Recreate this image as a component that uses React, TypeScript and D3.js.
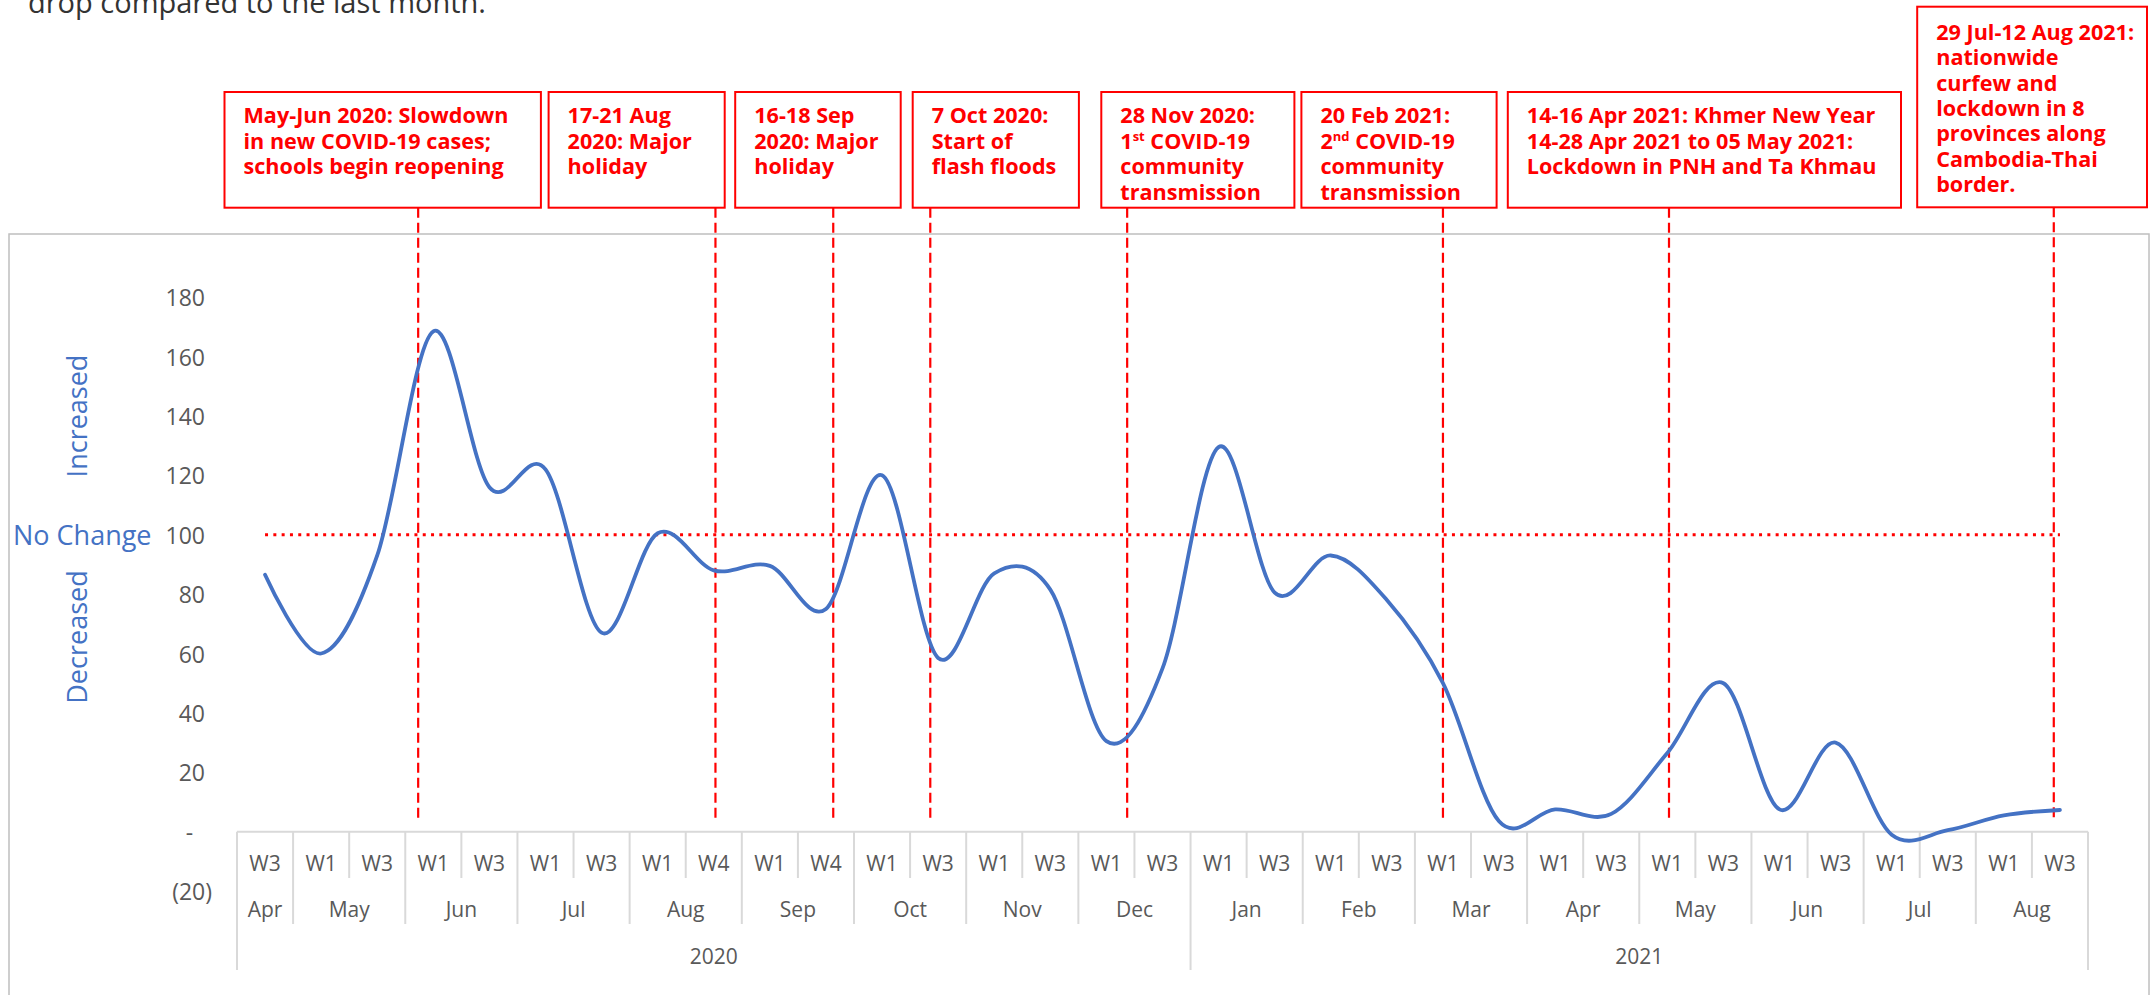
import React from "react";
import * as d3 from "d3";

// ---------- data ----------
const weekLabels = [
  "W3", "W1", "W3", "W1", "W3", "W1", "W3", "W1", "W4", "W1", "W4", "W1", "W3", "W1", "W3", "W1", "W3",
  "W1", "W3", "W1", "W3", "W1", "W3", "W1", "W3", "W1", "W3", "W1", "W3", "W1", "W3", "W1", "W3",
];
const monthLabels = ["Apr", "May", "Jun", "Jul", "Aug", "Sep", "Oct", "Nov", "Dec", "Jan", "Feb", "Mar", "Apr", "May", "Jun", "Jul", "Aug"];
const monthSpans = [1, 2, 2, 2, 2, 2, 2, 2, 2, 2, 2, 2, 2, 2, 2, 2, 2];
const yearLabels = ["2020", "2021"];
const yearSpans = [17, 16];

const values = [
  86.5, 60, 93, 168.5, 116, 122, 67, 100.5, 88, 89.5, 75, 120, 58.5, 87, 81.5, 30.5, 55,
  129.5, 80.5, 93, 78, 50, 3.5, 7.5, 6, 26.5, 50, 7.5, 30, -1, 0.5, 5.5, 7.3,
];

const yTicks = [-20, 0, 20, 40, 60, 80, 100, 120, 140, 160, 180];
const noChangeValue = 100;

// event positions on the category axis (fractional category index)
const eventPositions = [2.73, 8.03, 10.13, 11.86, 15.37, 21.0, 25.03, 31.89];
const eventTexts = [
  ["May-Jun 2020: Slowdown", "in new COVID-19 cases;", "schools begin reopening"],
  ["17-21 Aug", "2020: Major", "holiday"],
  ["16-18 Sep", "2020: Major", "holiday"],
  ["7 Oct 2020:", "Start of", "flash floods"],
  ["28 Nov 2020:", "1{st} COVID-19", "community", "transmission"],
  ["20 Feb 2021:", "2{nd} COVID-19", "community", "transmission"],
  ["14-16 Apr 2021: Khmer New Year", "14-28 Apr 2021 to 05 May 2021:", "Lockdown in PNH and Ta Khmau"],
  ["29 Jul-12 Aug 2021:", "nationwide", "curfew and", "lockdown in 8", "provinces along", "Cambodia-Thai", "border."],
];

// ---------- layout ----------
const W = 2151;
const H = 995;
const FONT = "'Open Sans', 'Noto Sans', sans-serif";
const boxLayout = [
  { x0: 224.5, x1: 540.9, y0: 92, y1: 207.7, ty: 123.3 },
  { x0: 548.6, x1: 724.7, y0: 92, y1: 207.7, ty: 123.3 },
  { x0: 735.2, x1: 900.7, y0: 92, y1: 207.7, ty: 123.3 },
  { x0: 912.7, x1: 1078.9, y0: 92, y1: 207.7, ty: 123.3 },
  { x0: 1101.3, x1: 1294.4, y0: 92, y1: 207.7, ty: 123.3 },
  { x0: 1301.4, x1: 1496.6, y0: 92, y1: 207.7, ty: 123.3 },
  { x0: 1507.8, x1: 1901, y0: 92, y1: 207.7, ty: 123.3 },
  { x0: 1917.2, x1: 2147, y0: 6.7, y1: 207.3, ty: 39.7 },
];

const RED = "#ff0000";
const BLUE = "#4472c4";
const GREY_TEXT = "#595959";
const AXIS = "#d9d9d9";

// Render one annotation line as a single <text>; "{xx}" marks superscript.
function AnnotLine({ line, x, y }: { line: string; x: number; y: number }) {
  const parts = line.split(/\{(\w+)\}/);
  const nodes: React.ReactNode[] = [];
  let pendingDy = 0;
  parts.forEach((p, i) => {
    if (p === "") return;
    if (i % 2 === 1) {
      nodes.push(
        <tspan key={i} fontSize={13} dy={-8}>
          {p}
        </tspan>
      );
      pendingDy = 8;
    } else {
      nodes.push(
        <tspan key={i} dy={pendingDy || undefined}>
          {p}
        </tspan>
      );
      pendingDy = 0;
    }
  });
  return (
    <text x={x} y={y} fontSize={21.6} fontWeight={700} fill={RED}>
      {nodes}
    </text>
  );
}

export default function App() {
  const n = values.length;
  const xf = d3.scaleLinear().domain([-0.5, n - 0.5]).range([237, 2088]);
  const y = d3.scaleLinear().domain([-20, 180]).range([891.1, 297.1]);

  const lineGen = d3
    .line<number>()
    .x((_, i) => xf(i))
    .y((d) => y(d))
    .curve(d3.curveCardinal.tension(0));

  const axisY = y(0);
  const weekRowBottom = 878;
  const monthRowBottom = 924;
  const yearRowBottom = 970;

  const monthBoundaries = new Set<number>();
  let acc = 0;
  monthSpans.forEach((s) => {
    monthBoundaries.add(acc);
    acc += s;
  });
  monthBoundaries.add(acc);
  const yearBoundaries = new Set<number>();
  acc = 0;
  yearSpans.forEach((s) => {
    yearBoundaries.add(acc);
    acc += s;
  });
  yearBoundaries.add(acc);

  const separators = d3.range(n + 1).map((k) => {
    const bottom = yearBoundaries.has(k) ? yearRowBottom : monthBoundaries.has(k) ? monthRowBottom : weekRowBottom;
    return { x: xf(k - 0.5), bottom };
  });

  const monthPos: { label: string; x: number }[] = [];
  acc = 0;
  monthLabels.forEach((m, i) => {
    const s = monthSpans[i];
    monthPos.push({ label: m, x: (xf(acc - 0.5) + xf(acc + s - 0.5)) / 2 });
    acc += s;
  });
  const yearPos: { label: string; x: number }[] = [];
  acc = 0;
  yearLabels.forEach((yl, i) => {
    const s = yearSpans[i];
    yearPos.push({ label: yl, x: (xf(acc - 0.5) + xf(acc + s - 0.5)) / 2 });
    acc += s;
  });

  const tickLabel = (v: number) => {
    if (v === 0) return { text: "-", x: 189.5, anchor: "middle" };
    if (v < 0) return { text: `(${-v})`, x: 212, anchor: "end" };
    return { text: String(v), x: 205, anchor: "end" };
  };

  return (
    <svg
      width={W}
      height={H}
      style={{ position: "absolute", left: 0, top: 0, background: "#fff" }}
      fontFamily={FONT}
    >
      {/* header text fragment (cut off at the top, as in the source) */}
      <text x={28} y={12.5} fontSize={29} fill="#333333">
        drop compared to the last month.
      </text>

      {/* chart area border */}
      <rect x={9} y={234} width={2140} height={800} fill="none" stroke="#bfbfbf" strokeWidth={1.5} />

      {/* y tick labels */}
      {yTicks.map((v) => {
        const t = tickLabel(v);
        return (
          <text
            key={v}
            x={t.x}
            y={y(v)}
            fontSize={23}
            fill={GREY_TEXT}
            textAnchor={t.anchor as any}
            dominantBaseline="central"
          >
            {t.text}
          </text>
        );
      })}

      {/* y annotations */}
      <text x={13} y={y(noChangeValue)} fontSize={27} fill={BLUE} dominantBaseline="central">
        No Change
      </text>
      <text transform={`translate(87, ${416}) rotate(-90)`} fontSize={27} fill={BLUE} textAnchor="middle">
        Increased
      </text>
      <text transform={`translate(87, ${637}) rotate(-90)`} fontSize={27} fill={BLUE} textAnchor="middle">
        Decreased
      </text>

      {/* category axis */}
      <line x1={xf(-0.5)} x2={xf(n - 0.5)} y1={axisY} y2={axisY} stroke={AXIS} strokeWidth={2} />
      {separators.map((s, i) => (
        <line key={i} x1={s.x} x2={s.x} y1={axisY} y2={s.bottom} stroke={AXIS} strokeWidth={2} />
      ))}
      {weekLabels.map((w, i) => (
        <text key={i} x={xf(i)} y={863} fontSize={21} fill={GREY_TEXT} textAnchor="middle" dominantBaseline="central">
          {w}
        </text>
      ))}
      {monthPos.map((m, i) => (
        <text key={i} x={m.x} y={909} fontSize={21} fill={GREY_TEXT} textAnchor="middle" dominantBaseline="central">
          {m.label}
        </text>
      ))}
      {yearPos.map((m, i) => (
        <text key={i} x={m.x} y={956} fontSize={21} fill={GREY_TEXT} textAnchor="middle" dominantBaseline="central">
          {m.label}
        </text>
      ))}

      {/* no change dotted line */}
      <line
        x1={xf(0)}
        x2={xf(n - 1)}
        y1={y(noChangeValue)}
        y2={y(noChangeValue)}
        stroke={RED}
        strokeWidth={3}
        strokeDasharray="3 5.3"
      />

      {/* event lines */}
      {eventPositions.map((p, i) => (
        <line
          key={i}
          x1={xf(p)}
          x2={xf(p)}
          y1={boxLayout[i].y1}
          y2={821}
          stroke={RED}
          strokeWidth={2.2}
          strokeDasharray="10 5"
        />
      ))}

      {/* data line */}
      <path
        d={lineGen(values) || ""}
        fill="none"
        stroke={BLUE}
        strokeWidth={3.8}
        strokeLinecap="round"
        strokeLinejoin="round"
      />

      {/* annotation boxes */}
      {eventTexts.map((lines, i) => {
        const b = boxLayout[i];
        return (
          <g key={i}>
            <rect x={b.x0} y={b.y0} width={b.x1 - b.x0} height={b.y1 - b.y0} fill="#fff" stroke={RED} strokeWidth={2} />
            {lines.map((ln, j) => (
              <AnnotLine key={j} line={ln} x={b.x0 + 19} y={b.ty + j * 25.4} />
            ))}
          </g>
        );
      })}
    </svg>
  );
}
